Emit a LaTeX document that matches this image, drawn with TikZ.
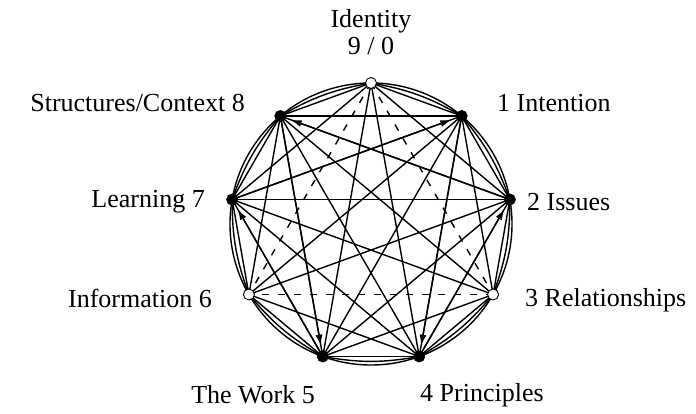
\documentclass[tikz,border=0pt]{standalone}
\usepackage{fontspec}
\setmainfont{Liberation Serif}
\usepackage{tikz}
\usetikzlibrary{arrows.meta,positioning,calc}

\begin{document}
\begin{tikzpicture}[x=1pt,y=1pt,
    chord/.style={line width=1.4pt,black},
    dashChord/.style={line width=1.4pt,black,dash pattern=on 7pt off 9pt},
    flow/.style={line width=1.4pt,-{Latex[length=11pt,width=7pt]},shorten >=11pt},
    dotFilled/.style={circle,fill=black,draw=black,line width=.9pt,minimum size=11pt,inner sep=0pt},
    dotOpen/.style={circle,fill=white,draw=black,line width=.9pt,minimum size=11pt,inner sep=0pt},
    lbl/.style={font=\fontsize{26}{27}\selectfont,inner sep=0pt}]
  \useasboundingbox (0,0) rectangle (696,413);
  % Nine points on the circle, 0 at the top, numbered clockwise.
  \coordinate (c) at (371,189);
  \foreach \i in {0,...,8}
    \coordinate (p\i) at ($(c)+(90-40*\i:141)$);

  % Outer circle and the inner arcs between neighbours.
  \draw[chord] (c) circle (141);
  \foreach \i in {0,...,8}{
    \pgfmathtruncatemacro{\nx}{mod(\i+1,9)}
    \draw[chord] (p\i) to[bend left=10] (p\nx);
  }

  % All chords; the triangle 0-3-6 is dashed.
  \foreach \i in {0,...,7}{
    \pgfmathtruncatemacro{\first}{\i+1}
    \foreach \j in {\first,...,8}{
      \pgfmathtruncatemacro{\tri}{(mod(\i,3)==0)&&(mod(\j,3)==0)}
      \ifnum\tri=1
        \draw[dashChord] (p\i) -- (p\j);
      \else
        \draw[chord] (p\i) -- (p\j);
      \fi
    }
  }

  % Sequence 1-4-2-8-5-7.
  \draw[flow] (p1) -- (p4);
  \draw[flow] (p4) -- (p2);
  \draw[flow] (p2) -- (p8);
  \draw[flow] (p8) -- (p5);
  \draw[flow] (p5) -- (p7);
  \draw[flow] (p7) -- (p1);

  % Points.
  \foreach \i in {0,3,6}
    \node[dotOpen] (n\i) at (p\i) {};
  \foreach \i in {1,2,4,5,7,8}
    \node[dotFilled] (n\i) at (p\i) {};

  % Labels.
  \node[lbl,align=center] (l0) at (371,381) {Identity\\9 / 0};
  \node[lbl,anchor=west] (l1) at (497,310) {1 Intention};
  \node[lbl,anchor=west] (l2) at (527,211) {2 Issues};
  \node[lbl,anchor=west] (l3) at (525,113) {3 Relationships};
  \node[lbl,anchor=west] (l4) at (420,18) {4 Principles};
  \node[lbl,anchor=east] (l5) at (315,18) {The Work 5};
  \node[lbl,anchor=east] (l6) at (212,115) {Information 6};
  \node[lbl,anchor=east] (l7) at (205,211) {Learning 7};
  \node[lbl,anchor=east] (l8) at (245,310) {Structures/Context 8};
\end{tikzpicture}
\end{document}
